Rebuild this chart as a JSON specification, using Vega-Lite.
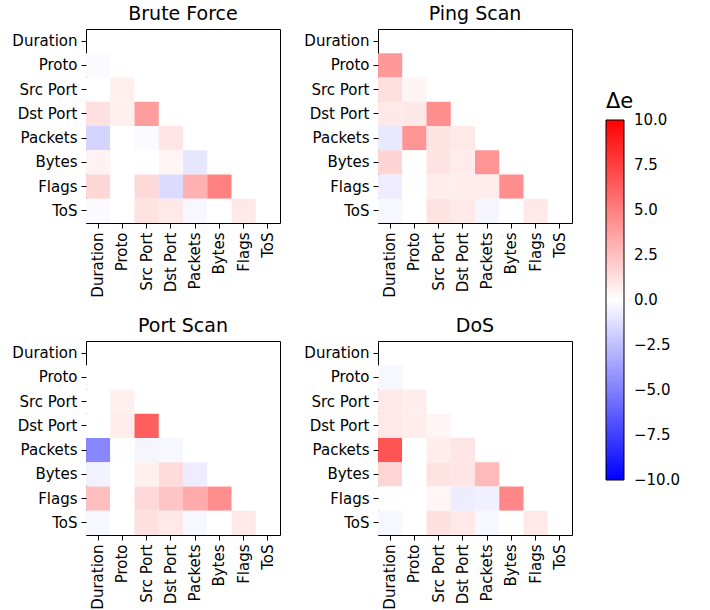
{
  "$schema": "https://vega.github.io/schema/vega-lite/v6.json",
  "background": "white",
  "padding": {"left": 5, "top": 4, "right": 5, "bottom": 0},
  "data": {"values": [
    {"a":"Brute Force","r":"Proto","c":"Duration","v":-0.2},
    {"a":"Brute Force","r":"Src Port","c":"Duration","v":0},
    {"a":"Brute Force","r":"Src Port","c":"Proto","v":0.6},
    {"a":"Brute Force","r":"Dst Port","c":"Duration","v":1.2},
    {"a":"Brute Force","r":"Dst Port","c":"Proto","v":0.6},
    {"a":"Brute Force","r":"Dst Port","c":"Src Port","v":3.9},
    {"a":"Brute Force","r":"Packets","c":"Duration","v":-1.7},
    {"a":"Brute Force","r":"Packets","c":"Proto","v":0},
    {"a":"Brute Force","r":"Packets","c":"Src Port","v":-0.2},
    {"a":"Brute Force","r":"Packets","c":"Dst Port","v":1.0},
    {"a":"Brute Force","r":"Bytes","c":"Duration","v":0.5},
    {"a":"Brute Force","r":"Bytes","c":"Proto","v":0},
    {"a":"Brute Force","r":"Bytes","c":"Src Port","v":0},
    {"a":"Brute Force","r":"Bytes","c":"Dst Port","v":0.4},
    {"a":"Brute Force","r":"Bytes","c":"Packets","v":-1.0},
    {"a":"Brute Force","r":"Flags","c":"Duration","v":1.6},
    {"a":"Brute Force","r":"Flags","c":"Proto","v":0},
    {"a":"Brute Force","r":"Flags","c":"Src Port","v":1.5},
    {"a":"Brute Force","r":"Flags","c":"Dst Port","v":-1.4},
    {"a":"Brute Force","r":"Flags","c":"Packets","v":3.1},
    {"a":"Brute Force","r":"Flags","c":"Bytes","v":5.0},
    {"a":"Brute Force","r":"ToS","c":"Duration","v":-0.2},
    {"a":"Brute Force","r":"ToS","c":"Proto","v":0},
    {"a":"Brute Force","r":"ToS","c":"Src Port","v":1.1},
    {"a":"Brute Force","r":"ToS","c":"Dst Port","v":0.9},
    {"a":"Brute Force","r":"ToS","c":"Packets","v":-0.3},
    {"a":"Brute Force","r":"ToS","c":"Bytes","v":0},
    {"a":"Brute Force","r":"ToS","c":"Flags","v":0.9},

    {"a":"Ping Scan","r":"Proto","c":"Duration","v":4.0},
    {"a":"Ping Scan","r":"Src Port","c":"Duration","v":1.2},
    {"a":"Ping Scan","r":"Src Port","c":"Proto","v":0.4},
    {"a":"Ping Scan","r":"Dst Port","c":"Duration","v":0.9},
    {"a":"Ping Scan","r":"Dst Port","c":"Proto","v":0.9},
    {"a":"Ping Scan","r":"Dst Port","c":"Src Port","v":4.4},
    {"a":"Ping Scan","r":"Packets","c":"Duration","v":-0.9},
    {"a":"Ping Scan","r":"Packets","c":"Proto","v":4.2},
    {"a":"Ping Scan","r":"Packets","c":"Src Port","v":1.1},
    {"a":"Ping Scan","r":"Packets","c":"Dst Port","v":0.9},
    {"a":"Ping Scan","r":"Bytes","c":"Duration","v":1.7},
    {"a":"Ping Scan","r":"Bytes","c":"Proto","v":0.05},
    {"a":"Ping Scan","r":"Bytes","c":"Src Port","v":1.1},
    {"a":"Ping Scan","r":"Bytes","c":"Dst Port","v":0.8},
    {"a":"Ping Scan","r":"Bytes","c":"Packets","v":4.2},
    {"a":"Ping Scan","r":"Flags","c":"Duration","v":-0.7},
    {"a":"Ping Scan","r":"Flags","c":"Proto","v":0},
    {"a":"Ping Scan","r":"Flags","c":"Src Port","v":0.7},
    {"a":"Ping Scan","r":"Flags","c":"Dst Port","v":0.7},
    {"a":"Ping Scan","r":"Flags","c":"Packets","v":0.7},
    {"a":"Ping Scan","r":"Flags","c":"Bytes","v":4.4},
    {"a":"Ping Scan","r":"ToS","c":"Duration","v":-0.3},
    {"a":"Ping Scan","r":"ToS","c":"Proto","v":0},
    {"a":"Ping Scan","r":"ToS","c":"Src Port","v":1.1},
    {"a":"Ping Scan","r":"ToS","c":"Dst Port","v":0.9},
    {"a":"Ping Scan","r":"ToS","c":"Packets","v":-0.4},
    {"a":"Ping Scan","r":"ToS","c":"Bytes","v":0.05},
    {"a":"Ping Scan","r":"ToS","c":"Flags","v":0.9},

    {"a":"Port Scan","r":"Proto","c":"Duration","v":0},
    {"a":"Port Scan","r":"Src Port","c":"Duration","v":0},
    {"a":"Port Scan","r":"Src Port","c":"Proto","v":0.6},
    {"a":"Port Scan","r":"Dst Port","c":"Duration","v":0},
    {"a":"Port Scan","r":"Dst Port","c":"Proto","v":0.7},
    {"a":"Port Scan","r":"Dst Port","c":"Src Port","v":6.3},
    {"a":"Port Scan","r":"Packets","c":"Duration","v":-4.7},
    {"a":"Port Scan","r":"Packets","c":"Proto","v":0.05},
    {"a":"Port Scan","r":"Packets","c":"Src Port","v":-0.4},
    {"a":"Port Scan","r":"Packets","c":"Dst Port","v":-0.3},
    {"a":"Port Scan","r":"Bytes","c":"Duration","v":-0.5},
    {"a":"Port Scan","r":"Bytes","c":"Proto","v":0},
    {"a":"Port Scan","r":"Bytes","c":"Src Port","v":0.6},
    {"a":"Port Scan","r":"Bytes","c":"Dst Port","v":1.4},
    {"a":"Port Scan","r":"Bytes","c":"Packets","v":-0.7},
    {"a":"Port Scan","r":"Flags","c":"Duration","v":2.5},
    {"a":"Port Scan","r":"Flags","c":"Proto","v":0},
    {"a":"Port Scan","r":"Flags","c":"Src Port","v":1.5},
    {"a":"Port Scan","r":"Flags","c":"Dst Port","v":2.3},
    {"a":"Port Scan","r":"Flags","c":"Packets","v":3.3},
    {"a":"Port Scan","r":"Flags","c":"Bytes","v":4.4},
    {"a":"Port Scan","r":"ToS","c":"Duration","v":-0.3},
    {"a":"Port Scan","r":"ToS","c":"Proto","v":0},
    {"a":"Port Scan","r":"ToS","c":"Src Port","v":1.2},
    {"a":"Port Scan","r":"ToS","c":"Dst Port","v":0.9},
    {"a":"Port Scan","r":"ToS","c":"Packets","v":-0.3},
    {"a":"Port Scan","r":"ToS","c":"Bytes","v":0},
    {"a":"Port Scan","r":"ToS","c":"Flags","v":0.9},

    {"a":"DoS","r":"Proto","c":"Duration","v":-0.3},
    {"a":"DoS","r":"Src Port","c":"Duration","v":0.9},
    {"a":"DoS","r":"Src Port","c":"Proto","v":0.7},
    {"a":"DoS","r":"Dst Port","c":"Duration","v":0.9},
    {"a":"DoS","r":"Dst Port","c":"Proto","v":0.7},
    {"a":"DoS","r":"Dst Port","c":"Src Port","v":0.4},
    {"a":"DoS","r":"Packets","c":"Duration","v":6.7},
    {"a":"DoS","r":"Packets","c":"Proto","v":0},
    {"a":"DoS","r":"Packets","c":"Src Port","v":0.7},
    {"a":"DoS","r":"Packets","c":"Dst Port","v":1.0},
    {"a":"DoS","r":"Bytes","c":"Duration","v":1.7},
    {"a":"DoS","r":"Bytes","c":"Proto","v":0},
    {"a":"DoS","r":"Bytes","c":"Src Port","v":1.1},
    {"a":"DoS","r":"Bytes","c":"Dst Port","v":1.0},
    {"a":"DoS","r":"Bytes","c":"Packets","v":2.7},
    {"a":"DoS","r":"Flags","c":"Duration","v":0.05},
    {"a":"DoS","r":"Flags","c":"Proto","v":0},
    {"a":"DoS","r":"Flags","c":"Src Port","v":0.4},
    {"a":"DoS","r":"Flags","c":"Dst Port","v":-0.7},
    {"a":"DoS","r":"Flags","c":"Packets","v":-0.6},
    {"a":"DoS","r":"Flags","c":"Bytes","v":4.7},
    {"a":"DoS","r":"ToS","c":"Duration","v":-0.3},
    {"a":"DoS","r":"ToS","c":"Proto","v":0},
    {"a":"DoS","r":"ToS","c":"Src Port","v":1.2},
    {"a":"DoS","r":"ToS","c":"Dst Port","v":0.9},
    {"a":"DoS","r":"ToS","c":"Packets","v":-0.3},
    {"a":"DoS","r":"ToS","c":"Bytes","v":0.05},
    {"a":"DoS","r":"ToS","c":"Flags","v":0.9}
  ]},
  "facet": {
    "field": "a",
    "type": "nominal",
    "sort": ["Brute Force", "Ping Scan", "Port Scan", "DoS"],
    "header": {"title": null, "labelFontSize": 19, "labelFont": "DejaVu Sans", "labelColor": "black", "labelPadding": 5}
  },
  "columns": 2,
  "spacing": {"row": 17, "column": 16},
  "resolve": {"axis": {"x": "independent", "y": "independent"}},
  "spec": {
    "width": 194,
    "height": 194,
    "mark": {"type": "rect", "strokeWidth": 0},
    "encoding": {
      "x": {
        "field": "c", "type": "nominal",
        "scale": {"domain": ["Duration", "Proto", "Src Port", "Dst Port", "Packets", "Bytes", "Flags", "ToS"], "paddingInner": 0, "paddingOuter": 0},
        "axis": {"title": null, "labelAngle": 270, "labelAlign": "right", "labelBaseline": "middle", "bandPosition": 0.5, "minExtent": 75, "maxExtent": 75}
      },
      "y": {
        "field": "r", "type": "nominal",
        "scale": {"domain": ["Duration", "Proto", "Src Port", "Dst Port", "Packets", "Bytes", "Flags", "ToS"], "paddingInner": 0, "paddingOuter": 0},
        "axis": {"title": null, "bandPosition": 0.5, "minExtent": 80, "maxExtent": 80}
      },
      "color": {
        "field": "v", "type": "quantitative",
        "scale": {"domain": [-10, 0, 10], "range": ["#0000ff", "#ffffff", "#ff0000"], "interpolate": "rgb"},
        "legend": {
          "title": "Δe",
          "orient": "none",
          "legendX": 520,
          "legendY": 62,
          "direction": "vertical",
          "gradientLength": 360,
          "gradientThickness": 18,
          "gradientStrokeColor": "black",
          "gradientStrokeWidth": 1,
          "values": [-10, -7.5, -5, -2.5, 0, 2.5, 5, 7.5, 10],
          "format": ".1f",
          "labelOverlap": false,
          "labelFontSize": 15,
          "labelFont": "DejaVu Sans",
          "labelColor": "black",
          "labelOffset": 10,
          "labelBaseline": "middle",
          "titleFontSize": 21,
          "titleFont": "DejaVu Sans",
          "titleFontWeight": "normal",
          "titleColor": "black",
          "titlePadding": 8,
          "encode": {"labels": {"update": {"baseline": {"value": "middle"}}}}
        }
      }
    }
  },
  "config": {
    "view": {"stroke": "black", "strokeWidth": 1, "fill": "white"},
    "axis": {"domain": false, "ticks": true, "tickColor": "black", "tickSize": 5, "labelFont": "DejaVu Sans", "labelFontSize": 15, "labelColor": "black", "labelPadding": 4, "grid": false}
  }
}
